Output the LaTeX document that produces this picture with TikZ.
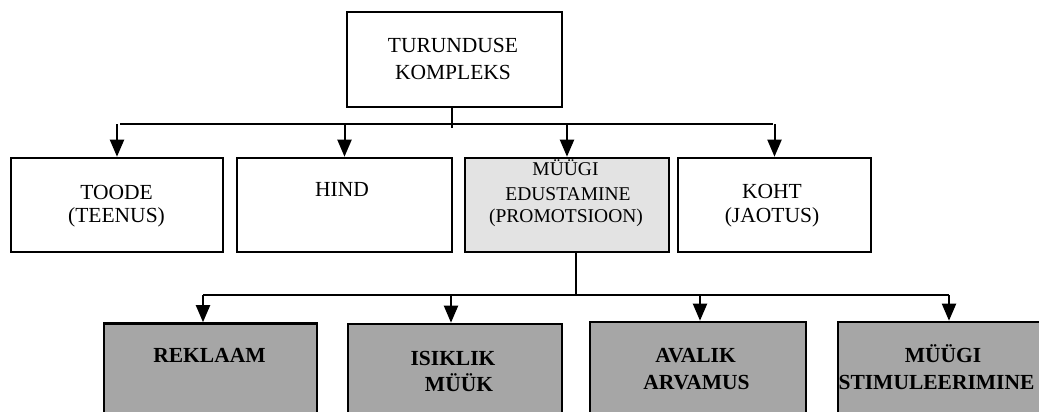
\documentclass[tikz,border=0pt]{standalone}
\usepackage{fontspec}
\setmainfont{Liberation Serif}
\usetikzlibrary{arrows.meta}
\definecolor{lightfill}{HTML}{E3E3E3}
\definecolor{darkfill}{HTML}{A6A6A6}
\begin{document}
\begin{tikzpicture}[x=1pt,y=-1pt,
  box/.style={draw=black,line width=2.6pt,rectangle,inner sep=0pt,fill=white},
  lbl/.style={anchor=base,inner sep=0pt,font=\fontsize{21.5}{25}\selectfont},
  lblsmall/.style={anchor=base,inner sep=0pt,font=\fontsize{19.5}{23}\selectfont},
  lblbold/.style={anchor=base,inner sep=0pt,font=\fontsize{21.5}{25}\selectfont\bfseries},
  conn/.style={line width=2pt},
  arr/.style={line width=2pt,-{Triangle[length=17pt,width=14pt]}}]
\useasboundingbox (0,0) rectangle (1039,412);
\clip (0,0) rectangle (1039,412);
% top box
\node[box,minimum width=215pt,minimum height=95pt] (top) at (454.5,59.5) {};
\node[lbl] (topA) at (453,52.5) {TURUNDUSE};
\node[lbl] (topB) at (453,79.5) {KOMPLEKS};
% second row
\node[box,minimum width=212pt,minimum height=94pt] (b1) at (117,205) {};
\node[box,minimum width=215pt,minimum height=94pt] (b2) at (344.5,205) {};
\node[box,fill=lightfill,minimum width=204pt,minimum height=94pt] (b3) at (567,205) {};
\node[box,minimum width=193pt,minimum height=94pt] (b4) at (774.5,205) {};
\node[lbl] (b1A) at (116.5,199) {TOODE};
\node[lbl] (b1B) at (116.5,222.5) {(TEENUS)};
\node[lbl] (b2A) at (342,196) {HIND};
\node[lblsmall] (b3A) at (565.5,175) {MÜÜGI};
\node[lblsmall] (b3B) at (568,200) {EDUSTAMINE};
\node[lblsmall] (b3C) at (566,222.5) {(PROMOTSIOON)};
\node[lbl] (b4A) at (772,198) {KOHT};
\node[lbl] (b4B) at (772,222.5) {(JAOTUS)};
% third row
\node[box,fill=darkfill,minimum width=213pt,minimum height=117pt] (c1) at (210.5,382) {};
\node[box,fill=darkfill,minimum width=214pt,minimum height=117pt] (c2) at (455,382.5) {};
\node[box,fill=darkfill,minimum width=216pt,minimum height=117pt] (c3) at (698,380.5) {};
\node[box,fill=darkfill,minimum width=216pt,minimum height=117pt] (c4) at (946,380.5) {};
\node[lblbold] (c1A) at (209.5,362.5) {REKLAAM};
\node[lblbold] (c2A) at (453,365) {ISIKLIK};
\node[lblbold] (c2B) at (459,391.5) {MÜÜK};
\node[lblbold] (c3A) at (695.5,362) {AVALIK};
\node[lblbold] (c3B) at (696.5,389) {ARVAMUS};
\node[lblbold] (c4A) at (943,362) {MÜÜGI};
\node[lblbold] (c4B) at (936.5,389) {STIMULEERIMINE};
% connectors top level
\coordinate (j1) at (452,124);
\coordinate (j1end) at (452,127.5);
\coordinate (h1l) at (120,124);
\coordinate (h1r) at (773,124);
\draw[conn] (top.south -| j1) -- (j1end);
\draw[conn] (h1l) -- (h1r);
\draw[arr] (b1.north |- j1) -- (b1.north);
\draw[arr] (b2.north |- j1) -- (b2.north);
\draw[arr] (b3.north |- j1) -- (b3.north);
\draw[arr] (b4.north |- j1) -- (b4.north);
% connectors second level
\coordinate (j2) at (576,295);
\coordinate (a1) at (203,295);
\coordinate (a2) at (451,295);
\coordinate (a3) at (700,295);
\coordinate (a4) at (949,295);
\draw[conn] (b3.south -| j2) -- (j2);
\draw[conn] (a1) -- (a4);
\draw[arr] (a1) -- (a1 |- c1.north);
\draw[arr] (a2) -- (a2 |- c2.north);
\draw[arr] (a3) -- (a3 |- c3.north);
\draw[arr] (a4) -- (a4 |- c4.north);
\end{tikzpicture}
\end{document}
